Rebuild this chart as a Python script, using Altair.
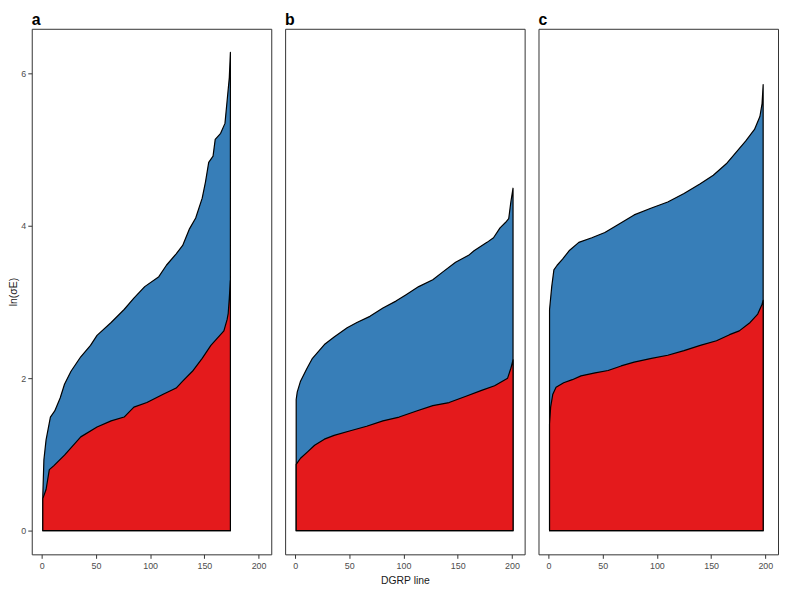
import altair as alt
import pandas as pd

RED = "#E41A1C"
BLUE = "#377EB8"
FONT = "Liberation Sans"

# Panel a (174 DGRP lines)
A_UP_X = [1, 2, 4, 8, 12, 17, 21, 27, 36, 45, 51, 64, 76, 85, 95, 108, 115, 124, 130, 136,
          142, 148, 151, 154, 158, 160, 165, 169, 171, 173, 174]
A_UP_Y = [0.46, 0.93, 1.19, 1.49, 1.57, 1.74, 1.92, 2.09, 2.28, 2.43, 2.56, 2.73, 2.90, 3.05,
          3.20, 3.33, 3.48, 3.63, 3.74, 3.95, 4.10, 4.36, 4.57, 4.83, 4.91, 5.13, 5.21, 5.34,
          5.64, 5.94, 6.27]
A_LO_X = [1, 4, 7, 11, 21, 36, 51, 64, 76, 85, 97, 112, 124, 130, 139, 148, 156, 168, 171,
          172, 173, 174]
A_LO_Y = [0.42, 0.54, 0.80, 0.85, 0.99, 1.23, 1.36, 1.44, 1.49, 1.62, 1.68, 1.79, 1.87, 1.96,
          2.09, 2.26, 2.43, 2.62, 2.77, 2.85, 3.05, 3.28]

# Panel b (201 DGRP lines)
B_UP_X = [1, 2, 5, 11, 16, 21, 27, 36, 48, 57, 69, 81, 93, 102, 114, 127, 136, 148, 160, 165,
          177, 183, 189, 194, 197, 199, 201]
B_UP_Y = [1.72, 1.82, 1.96, 2.13, 2.26, 2.34, 2.44, 2.54, 2.66, 2.73, 2.81, 2.92, 3.01, 3.09,
          3.20, 3.29, 3.39, 3.52, 3.61, 3.67, 3.78, 3.84, 3.97, 4.04, 4.09, 4.31, 4.49]
B_LO_X = [1, 5, 12, 18, 27, 36, 51, 66, 81, 96, 112, 127, 142, 157, 172, 184, 196, 199, 201]
B_LO_Y = [0.87, 0.95, 1.04, 1.12, 1.20, 1.25, 1.31, 1.37, 1.44, 1.49, 1.57, 1.64, 1.68, 1.76,
          1.84, 1.90, 2.00, 2.13, 2.24]

# Panel c (198 DGRP lines)
C_UP_X = [1, 3, 5, 8, 13, 19, 28, 40, 52, 64, 79, 95, 110, 125, 140, 152, 164, 173, 182, 190,
          195, 197, 198]
C_UP_Y = [2.90, 3.20, 3.42, 3.48, 3.56, 3.67, 3.78, 3.84, 3.91, 4.01, 4.14, 4.23, 4.31, 4.42,
          4.55, 4.66, 4.81, 4.96, 5.11, 5.26, 5.43, 5.60, 5.85]
C_LO_X = [1, 2, 4, 7, 14, 22, 30, 43, 55, 67, 79, 95, 110, 125, 140, 155, 167, 176, 186, 193,
          197, 198]
C_LO_Y = [1.40, 1.62, 1.79, 1.88, 1.94, 1.98, 2.03, 2.07, 2.10, 2.16, 2.21, 2.26, 2.30, 2.36,
          2.43, 2.49, 2.57, 2.62, 2.73, 2.84, 2.97, 3.02]

X_TICKS = [0, 50, 100, 150, 200]
Y_TICKS = [0, 2, 4, 6]
PANELS = ["a", "b", "c"]

X_DOMAIN = [-9.2, 211.7]
Y_DOMAIN = [-0.31, 6.58]

W, H = 242, 531


def panel(label, ux, uy, lx, ly, first, xtitle):
    up = pd.DataFrame({"x": ux, "y": uy})
    lo = pd.DataFrame({"x": lx, "y": ly})
    xaxis = alt.Axis(values=X_TICKS, title=xtitle if xtitle else None, labelPadding=3,
                     titlePadding=5)
    xenc = alt.X("x:Q", scale=alt.Scale(domain=X_DOMAIN, nice=False, zero=False), axis=xaxis)
    if first:
        yenc = alt.Y("y:Q", scale=alt.Scale(domain=Y_DOMAIN, nice=False, zero=False),
                     axis=alt.Axis(values=Y_TICKS, title="ln(σE)", labelPadding=2,
                                   titlePadding=2))
    else:
        yenc = alt.Y("y:Q", scale=alt.Scale(domain=Y_DOMAIN, nice=False, zero=False), axis=None)
    blue = alt.Chart(up).mark_area(fill=BLUE, fillOpacity=1, stroke="black", strokeWidth=1.2,
                                   strokeJoin="round").encode(x=xenc, y=yenc, y2=alt.datum(0))
    red = alt.Chart(lo).mark_area(fill=RED, fillOpacity=1, stroke="black", strokeWidth=1.2,
                                  strokeJoin="round").encode(x=xenc, y=yenc, y2=alt.datum(0))
    return alt.layer(blue, red).properties(
        width=W, height=H,
        title=alt.TitleParams(label, anchor="start", frame="group", fontSize=16,
                              fontWeight="bold", font=FONT, color="black", offset=1),
    )


pa = panel(PANELS[0], A_UP_X, A_UP_Y, A_LO_X, A_LO_Y, True, None)
pb = panel(PANELS[1], B_UP_X, B_UP_Y, B_LO_X, B_LO_Y, False, "DGRP line")
pc = panel(PANELS[2], C_UP_X, C_UP_Y, C_LO_X, C_LO_Y, False, None)

chart = alt.hconcat(pa, pb, pc, spacing=12).properties(padding=0).configure_view(
    stroke="#333333", strokeWidth=1
).configure_axis(
    labelFont=FONT, labelFontSize=9, labelColor="#4d4d4d", tickColor="#333333",
    tickSize=4, domain=False, grid=False, titleFont=FONT, titleFontSize=10.5,
    titleFontWeight="normal", titleColor="#1a1a1a"
)

chart.save("out.html", embed_options={"renderer": "svg", "actions": False})
